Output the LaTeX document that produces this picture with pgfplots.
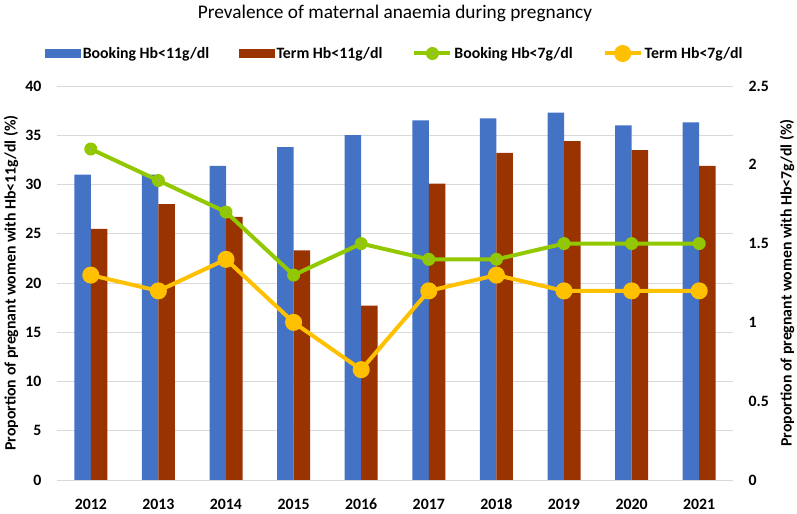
\documentclass[border=0pt]{standalone}
\usepackage{pgfplots}
\pgfplotsset{compat=1.18}
\usepackage{fontspec}
\setmainfont{Carlito}
\definecolor{cblue}{HTML}{4472C4}
\definecolor{cbrown}{HTML}{993300}
\definecolor{cgreen}{HTML}{92C800}
\definecolor{cyellow}{HTML}{FFC000}
\definecolor{cgrid}{HTML}{D9D9D9}
\pgfdeclareplotmark{dotcircle}{%
  \pgfsetfillcolor{cgreen}%
  \pgfpathcircle{\pgfpointorigin}{\pgfplotmarksize}\pgfusepath{fill}%
  \pgfsetfillcolor{gray!70}%
  \pgfpathcircle{\pgfpointorigin}{1pt}\pgfusepath{fill}}
\newcommand{\lbl}{\bfseries\fontsize{15.8}{18}\selectfont}
\begin{document}
\begin{tikzpicture}
\pgfplotsset{
  common/.style={
    scale only axis, width=676pt, height=394pt,
    xmin=2011.5, xmax=2021.5,
    /pgf/number format/assume math mode=true,
    /pgf/number format/1000 sep={},
    tick style={draw=none},
    ticklabel style={font=\lbl},
    label style={font=\lbl},
  }
}
\begin{axis}[common, name=main,
    ymin=0, ymax=40, ytick={0,5,...,40},
    xtick={2012,...,2021},
    axis y line*=left, axis x line*=bottom,
    axis line style={draw=none},
    ymajorgrids, grid style={cgrid, line width=0.8pt},
    ylabel={Proportion of pregnant women with Hb<11g/dl (\%)},
    ylabel style={at={(axis description cs:-0.068,0.5)}, anchor=center},
    title={\fontsize{19.3}{22}\selectfont Prevalence of maternal anaemia during pregnancy},
    title style={at={(axis description cs:0.5,1)}, anchor=center, yshift=67pt},
    xticklabel style={yshift=-11pt},
    yticklabel style={xshift=-12pt},
    ybar, bar width=16.5pt,
]
\addplot[fill=cblue, draw=none, bar shift=-8.25pt] coordinates {
  (2012,31) (2013,31) (2014,31.9) (2015,33.8) (2016,35)
  (2017,36.5) (2018,36.7) (2019,37.3) (2020,36) (2021,36.3)};
\addplot[fill=cbrown, draw=none, bar shift=8.25pt] coordinates {
  (2012,25.5) (2013,28) (2014,26.7) (2015,23.3) (2016,17.7)
  (2017,30.1) (2018,33.2) (2019,34.4) (2020,33.5) (2021,31.9)};
\draw[cgrid, line width=0.8pt] (rel axis cs:0,0) -- (rel axis cs:1,0);
\end{axis}
\begin{axis}[common,
    ymin=0, ymax=2.5, ytick={0,0.5,...,2.5},
    axis y line*=right, axis x line=none,
    axis line style={draw=none},
    ylabel={Proportion of pregnant women with Hb<7g/dl (\%)},
    ylabel style={at={(axis description cs:1.08,0.5)}, anchor=center},
    yticklabel style={xshift=12pt},
    legend style={at={(0.5,1)}, anchor=south, yshift=22pt, draw=none,
      font=\lbl, legend columns=4, column sep=0pt,
      /tikz/every even column/.append style={column sep=28pt}},
    legend cell align=left,
]
\addlegendimage{legend image code/.code={\fill[cblue] (0pt,-4pt) rectangle (35pt,4pt);}}
\addlegendentry{Booking Hb<11g/dl}
\addlegendimage{legend image code/.code={\fill[cbrown] (0pt,-4pt) rectangle (35pt,4pt);}}
\addlegendentry{Term Hb<11g/dl}
\addplot[cgreen, line width=4pt, mark=dotcircle, mark size=6.5pt,
  legend image code/.code={\draw[mark repeat=2, mark phase=2] plot coordinates {(0pt,0pt) (18pt,0pt) (36pt,0pt)};}]
  coordinates {
  (2012,2.1) (2013,1.9) (2014,1.7) (2015,1.3) (2016,1.5)
  (2017,1.4) (2018,1.4) (2019,1.5) (2020,1.5) (2021,1.5)};
\addlegendentry{Booking Hb<7g/dl}
\addplot[cyellow, line width=4pt, mark=*, mark size=6.5pt,
  mark options={fill=cyellow, draw=cyellow},
  legend image code/.code={\draw[mark repeat=2, mark phase=2] plot coordinates {(0pt,0pt) (18pt,0pt) (36pt,0pt)};}]
  coordinates {
  (2012,1.3) (2013,1.2) (2014,1.4) (2015,1.0) (2016,0.7)
  (2017,1.2) (2018,1.3) (2019,1.2) (2020,1.2) (2021,1.2)};
\addlegendentry{Term Hb<7g/dl}
\end{axis}
\pgfresetboundingbox
\path[use as bounding box] ([shift={(-57pt,-34pt)}]main.south west) rectangle ([shift={(64pt,86pt)}]main.north east);
\end{tikzpicture}
\end{document}
